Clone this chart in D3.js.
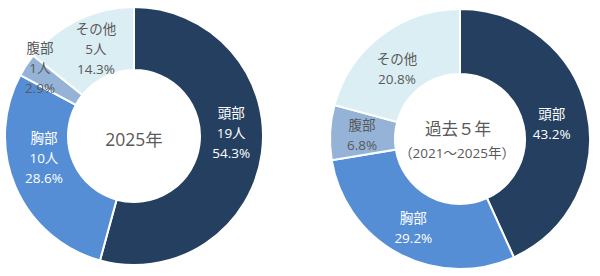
<!DOCTYPE html>
<html>
<head>
<meta charset="utf-8">
<script src="https://cdn.jsdelivr.net/npm/d3@7"></script>
<style>
  html, body { margin: 0; padding: 0; background: #fff; }
  svg text { font-family: "Open Sans", "Noto Sans CJK JP", sans-serif; }
</style>
</head>
<body>
<div id="chart"></div>
<script>
// Data
const categories = ["頭部", "胸部", "腹部", "その他"];
const counts2025 = [19, 10, 1, 5];
const share2025 = [54.3, 28.6, 2.9, 14.3];
const share5yr = [43.2, 29.2, 6.8, 20.8];
const colors = ["#243F60", "#558ED5", "#95B3D7", "#DBEEF4"];
const labelColors = ["#ffffff", "#ffffff", "#595959", "#595959"];

const width = 600;
const height = 276;

const svg = d3
  .select("#chart")
  .append("svg")
  .attr("width", width)
  .attr("height", height);

function drawDonut(opts) {
  const g = svg
    .append("g")
    .attr("transform", `translate(${opts.cx},${opts.cy})`);

  const rows = categories.map((name, i) => ({
    name,
    value: opts.shares[i],
    lines: opts.lines(i),
    i,
  }));

  const pie = d3.pie().sort(null).value((d) => d.value);
  const arc = d3.arc().innerRadius(opts.inner).outerRadius(opts.outer);
  const labelArc = d3.arc().innerRadius(97).outerRadius(97);
  const arcs = pie(rows);

  g.selectAll("path")
    .data(arcs)
    .join("path")
    .attr("d", arc)
    .attr("fill", (d) => colors[d.data.i])
    .attr("stroke", "#fff")
    .attr("stroke-width", 2);

  // data labels - Excel nudges a few of them
  const lab = g
    .selectAll("g.lab")
    .data(arcs)
    .join("g")
    .attr("class", "lab")
    .attr("transform", (d) => {
      const c = labelArc.centroid(d);
      const n = opts.nudge[d.data.i];
      return `translate(${c[0] + n[0]},${c[1] + n[1]})`;
    });
  lab.each(function (d) {
    const lines = d.data.lines;
    const step = 20;
    d3.select(this)
      .selectAll("text")
      .data(lines)
      .join("text")
      .attr("text-anchor", "middle")
      .attr("dominant-baseline", "central")
      .attr("y", (t, k) => (k - (lines.length - 1) / 2) * step)
      .attr("fill", labelColors[d.data.i])
      .attr("font-size", 13.5)
      .text((t) => t);
  });

  // centre title
  g.selectAll("text.title")
    .data(opts.title)
    .join("text")
    .attr("class", "title")
    .attr("text-anchor", "middle")
    .attr("dominant-baseline", "central")
    .attr("x", (t) => t.dx)
    .attr("y", (t) => t.dy)
    .attr("font-size", (t) => t.size)
    .attr("fill", "#595959")
    .text((t) => t.text);
}

drawDonut({
  cx: 134,
  cy: 136,
  outer: 129,
  inner: 66,
  shares: share2025,
  lines: (i) => [categories[i], counts2025[i] + "人", share2025[i].toFixed(1) + "%"],
  nudge: [[1, -16], [-1, -16], [-13, -15], [4, 0]],
  title: [{ text: "2025年", size: 17.5, dx: 0, dy: 3 }],
});

drawDonut({
  cx: 460,
  cy: 139,
  outer: 130,
  inner: 65,
  shares: share5yr,
  lines: (i) => [categories[i], share5yr[i].toFixed(1) + "%"],
  nudge: [[-3, 6], [-1, 3], [-1, 1], [-4, 7]],
  title: [
    { text: "過去５年", size: 16.5, dx: -2, dy: -11 },
    { text: "（2021～2025年）", size: 13.5, dx: -3, dy: 14 },
  ],
});
</script>
</body>
</html>
